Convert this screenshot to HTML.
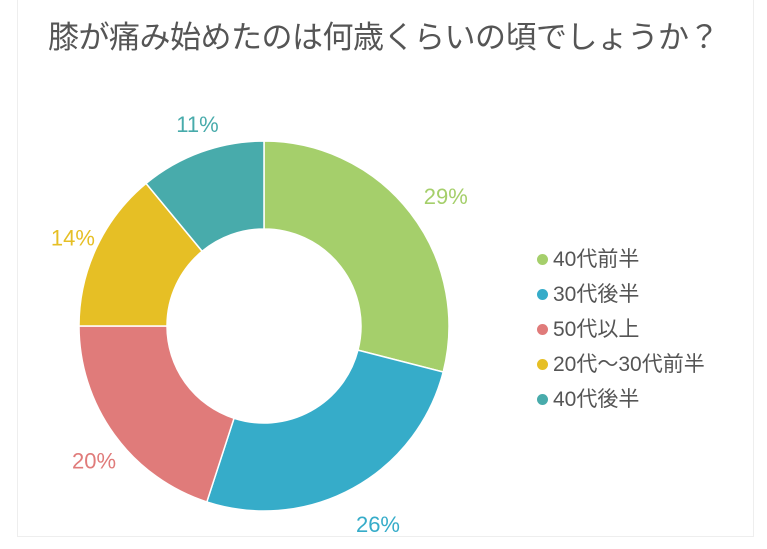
<!DOCTYPE html>
<html><head><meta charset="utf-8"><style>
body{margin:0;background:#fff;width:767px;height:549px;overflow:hidden;font-family:"Liberation Sans","Noto Sans CJK JP",sans-serif}
#card{position:absolute;left:17px;top:-1px;width:737px;height:538px;border:1px solid #eee;box-sizing:border-box}
#title{position:absolute;left:0;width:767px;top:12px;text-align:center;font-size:31px;color:#555;letter-spacing:-0.5px}
.leg{position:absolute;left:537px;font-size:21px;color:#555;height:26px;line-height:26px}
.leg i{display:inline-block;width:11px;height:11px;border-radius:50%;margin-right:5px;vertical-align:1px}
</style></head><body>
<div id="card"></div>
<div id="title">膝が痛み始めたのは何歳くらいの頃でしょうか？</div>
<svg id="chart" width="767" height="549" style="position:absolute;left:0;top:0"></svg>
<div id="legend"></div>
<script>
const categories=["40代前半","30代後半","50代以上","20代～30代前半","40代後半"];
const values=[29,26,20,14,11];
const colors=["#a5cf6b","#36acc9","#e07b7a","#e6bf25","#48abab"];
const cx=264,cy=326,R=185,r=97,LR=220;
const svg=document.getElementById('chart');const ns="http://www.w3.org/2000/svg";
const total=values.reduce((a,b)=>a+b,0);
let a0=0;
function pt(rad,a){return [cx+rad*Math.sin(a),cy-rad*Math.cos(a)];}
values.forEach((v,i)=>{
 const a1=a0+v/total*2*Math.PI;const lg=(a1-a0)>Math.PI?1:0;
 const p1=pt(R,a0),p2=pt(R,a1),p3=pt(r,a1),p4=pt(r,a0);
 const p=document.createElementNS(ns,'path');
 p.setAttribute('d',`M${p1}A${R},${R} 0 ${lg} 1 ${p2}L${p3}A${r},${r} 0 ${lg} 0 ${p4}Z`);
 p.setAttribute('fill',colors[i]);p.setAttribute('stroke','#fff');p.setAttribute('stroke-width','1.5');
 
 
 svg.appendChild(p);
 const m=(a0+a1)/2;const lp=pt(LR,m);
 const t=document.createElementNS(ns,'text');
 t.setAttribute('x',lp[0]+8);t.setAttribute('y',lp[1]+13);t.setAttribute('text-anchor','middle');
 t.setAttribute('font-size','22');t.setAttribute('fill',colors[i]);
 t.setAttribute('font-family','"Liberation Sans","Noto Sans CJK JP",sans-serif');
 t.textContent=v+'%';
 
 
 svg.appendChild(t);
 a0=a1;
});
const lg=document.getElementById('legend');
categories.forEach((c,i)=>{
 const d=document.createElement('div');d.className='leg';d.style.top=(247+i*35)+'px';
 d.innerHTML='<i style="background:'+colors[i]+'"></i>'+c;
 
 
 lg.appendChild(d);
});
</script>
</body></html>
